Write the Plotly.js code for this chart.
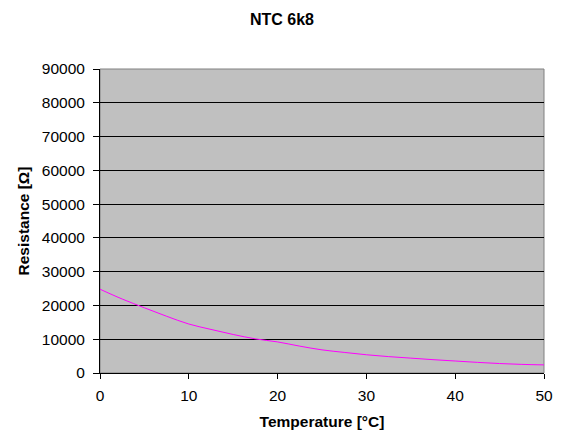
<!DOCTYPE html>
<html>
<head>
<meta charset="utf-8">
<script src="https://cdn.plot.ly/plotly-3.0.1.min.js"></script>
<style>html,body{margin:0;padding:0;background:#fff;}#chart{width:564px;height:446px;}</style>
</head>
<body>
<div id="chart"></div>
<script>
var temperature = [0, 2.5, 5, 7.5, 10, 12.5, 15, 17.5, 20, 22.5, 25, 27.5, 30, 32.5, 35, 37.5, 40, 42.5, 45, 47.5, 50];
var resistance = [24800, 21900, 19300, 16800, 14500, 12900, 11400, 10100, 9200, 7950, 6850, 6100, 5400, 4850, 4400, 3950, 3550, 3150, 2800, 2550, 2400];
var xTicks = [0, 10, 20, 30, 40, 50];
var yTicks = [0, 10000, 20000, 30000, 40000, 50000, 60000, 70000, 80000, 90000];

var font = 'Liberation Sans, Arial, sans-serif';
var trace = {
  x: temperature, y: resistance, type: 'scatter', mode: 'lines',
  line: {color: '#FF00FF', width: 1, shape: 'spline'},
  hoverinfo: 'none'
};
var layout = {
  width: 564, height: 446,
  margin: {l: 100, r: 20, t: 69, b: 73, pad: 0},
  paper_bgcolor: '#FFFFFF', plot_bgcolor: '#C0C0C0',
  showlegend: false,
  title: {text: '<b>NTC 6k8</b>', font: {family: font, size: 16, color: '#000'}, x: 0.5, xanchor: 'center', y: 0.957, yanchor: 'middle'},
  xaxis: {
    range: [0, 50], tickvals: xTicks, ticktext: xTicks.map(String),
    ticks: 'outside', ticklen: 5, tickcolor: '#000', tickwidth: 1,
    showline: true, linecolor: '#000', linewidth: 1,
    showgrid: false, zeroline: false, ticklabelstandoff: 3,
    tickfont: {family: font, size: 15.5, color: '#000'},
    title: {text: '<b>Temperature [°C]</b>', font: {family: font, size: 15.5, color: '#000'}, standoff: 13}
  },
  yaxis: {
    range: [0, 90000], tickvals: yTicks, ticktext: yTicks.map(String),
    ticks: 'outside', ticklen: 6, tickcolor: '#000', tickwidth: 1,
    showline: true, linecolor: '#000', linewidth: 1,
    showgrid: true, gridcolor: '#000', gridwidth: 1, zeroline: false, ticklabelstandoff: 5,
    tickfont: {family: font, size: 15.5, color: '#000'},
    title: {text: '<b>Resistance [Ω]</b>', font: {family: font, size: 15.5, color: '#000'}, standoff: 8}
  },
  shapes: [{type: 'rect', xref: 'paper', yref: 'paper', x0: 0, x1: 1, y0: 0, y1: 1, line: {color: '#808080', width: 1}, layer: 'below'}]
};
Plotly.newPlot('chart', [trace], layout, {staticPlot: true, displayModeBar: false});
</script>
</body>
</html>
